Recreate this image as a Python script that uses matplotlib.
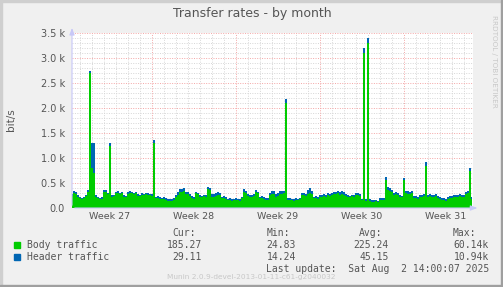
import numpy as np
import matplotlib.pyplot as plt
from matplotlib.patches import Rectangle

W, H = 503, 287

# body traffic, bit/s, one sample every 4 hours
body = [250, 300, 280, 230, 200, 180, 200, 240, 330, 2700,
        800, 700, 230, 200, 180, 190, 320, 330, 280, 1250,
        230, 240, 300, 310, 280, 300, 230, 220, 290, 310,
        300, 280, 300, 250, 240, 270, 260, 280, 270, 260,
        250, 1300, 200, 210, 190, 180, 190, 170, 150, 150,
        140, 160, 230, 260, 330, 320, 340, 290, 280, 240,
        200, 190, 300, 280, 230, 220, 240, 230, 390, 370,
        230, 220, 250, 270, 260, 200, 210, 190, 160, 170,
        150, 160, 170, 160, 150, 200, 330, 300, 240, 230,
        220, 250, 330, 300, 200, 210, 190, 160, 170, 270,
        290, 280, 230, 250, 290, 280, 300, 2100, 160, 170,
        160, 150, 170, 160, 180, 270, 260, 250, 290, 300,
        280, 200, 210, 190, 230, 220, 240, 230, 270, 250,
        260, 290, 280, 300, 270, 280, 270, 250, 230, 220,
        240, 230, 270, 260, 250, 160, 3100, 150, 3300, 150,
        130, 130, 140, 120, 170, 160, 170, 570, 360, 350,
        320, 270, 280, 260, 230, 220, 570, 300, 290, 280,
        300, 200, 210, 190, 230, 220, 240, 850, 230, 240,
        230, 220, 240, 200, 190, 160, 170, 150, 190, 200,
        210, 230, 220, 230, 240, 220, 230, 290, 300, 750, 190]

header = [40, 50, 40, 30, 30, 30, 30, 30, 30, 50,
          500, 600, 40, 30, 30, 30, 40, 30, 30, 50,
          30, 30, 30, 30, 30, 30, 30, 30, 30, 30,
          30, 30, 30, 30, 30, 30, 30, 30, 30, 30,
          30, 60, 30, 30, 30, 30, 30, 30, 40, 40,
          40, 40, 40, 60, 60, 60, 60, 40, 40, 40,
          40, 40, 30, 30, 30, 30, 30, 30, 40, 40,
          50, 60, 60, 50, 40, 30, 30, 30, 30, 30,
          30, 30, 30, 30, 30, 30, 60, 50, 40, 40,
          40, 40, 40, 30, 30, 30, 30, 40, 40, 40,
          60, 60, 50, 60, 60, 60, 50, 80, 40, 40,
          30, 30, 30, 30, 30, 40, 40, 40, 80, 100,
          60, 30, 30, 30, 40, 40, 40, 40, 40, 40,
          40, 40, 40, 40, 50, 60, 60, 40, 30, 30,
          30, 30, 40, 40, 40, 30, 100, 30, 100, 30,
          30, 30, 30, 30, 40, 40, 40, 50, 60, 60,
          50, 40, 40, 40, 30, 30, 40, 50, 50, 50,
          40, 40, 40, 40, 40, 40, 40, 80, 40, 40,
          40, 40, 40, 40, 40, 40, 40, 40, 40, 40,
          40, 40, 40, 40, 40, 40, 40, 40, 40, 60, 30]

# days since Mon 30 Jun 2025 00:00
t_start = 1 / 3
t_step = 1 / 6
t_end = t_start + 401 / 12

week_labels = ['Week 27', 'Week 28', 'Week 29', 'Week 30', 'Week 31']
week_centres = [3.5, 10.5, 17.5, 24.5, 31.5]
week_starts = [7, 14, 21, 28]

yticks = [0, 500, 1000, 1500, 2000, 2500, 3000, 3500]
ytick_labels = ['0.0', '0.5 k', '1.0 k', '1.5 k', '2.0 k', '2.5 k', '3.0 k', '3.5 k']

names = ['Body traffic', 'Header traffic']
colors = ['#00cc00', '#0066b3']
cur = ['185.27', '29.11']
mins = ['24.83', '14.24']
avg = ['225.24', '45.15']
maxs = ['60.14k', '10.94k']

body = np.array(body, dtype=float)
header = np.array(header, dtype=float)
t = t_start + np.arange(len(body)) * t_step

txt = '#555555'
fig = plt.figure(figsize=(W / 100, H / 100), dpi=100, facecolor='#f0f0f0')


def px(x, y):
    return x / W, 1 - y / H


ax = fig.add_axes([72 / W, 1 - 208 / H, 401 / W, 175 / H])
ax.set_facecolor('white')

# grid
for d in range(1, 34):
    if d not in week_starts:
        ax.axvline(d, color='#d6d6d6', lw=0.7, ls=(0, (1, 1.5)), zorder=1)
for v in range(100, 3600, 100):
    if v % 500:
        ax.axhline(v, color='#d6d6d6', lw=0.7, ls=(0, (1, 1.5)), zorder=1)
for d in week_starts:
    ax.axvline(d, color='#f4a6a6', lw=0.7, ls=(0, (1, 1.5)), zorder=1)
for v in yticks[1:]:
    ax.axhline(v, color='#f4a6a6', lw=0.7, ls=(0, (1, 1.5)), zorder=1)

ax.fill_between(t, 0, body + header, step='mid', color=colors[1], lw=0, zorder=2)
ax.fill_between(t, 0, body, step='mid', color=colors[0], lw=0, zorder=3)

ax.set_xlim(t_start, t_end)
ax.set_ylim(0, 3500)
for s in ax.spines.values():
    s.set_visible(False)
ax.set_xticks(week_centres)
ax.set_xticklabels(week_labels, fontsize=6.8, color=txt)
ax.set_yticks(yticks)
ax.set_yticklabels(ytick_labels, fontsize=7, color=txt)
ax.tick_params(length=0, pad=5)
ax.tick_params(axis='x', pad=3)

# axis lines with arrows
ax.annotate('', xy=(0, 1.045), xytext=(0, 0), xycoords='axes fraction',
            arrowprops=dict(arrowstyle='-|>,head_width=0.15,head_length=0.4',
                            color='#c8c8f8', lw=0.8))
ax.annotate('', xy=(1.018, 0), xytext=(0, 0), xycoords='axes fraction',
            arrowprops=dict(arrowstyle='-|>,head_width=0.15,head_length=0.4',
                            color='#c8c8f8', lw=0.8))

fig.text(*px(252, 13), 'Transfer rates - by month', ha='center', va='center',
         fontsize=9, color=txt)
fig.text(*px(11, 120), 'bit/s', ha='center', va='center', rotation=90,
         fontsize=7.5, color=txt)
fig.text(*px(494, 15), 'RRDTOOL / TOBI OETIKER', ha='center', va='top',
         rotation=-90, fontsize=5.2, color='#c8c8c8')

mono = dict(family='DejaVu Sans Mono', fontsize=7, color=txt, va='center')
fig.text(*px(196, 233), 'Cur:', ha='right', **mono)
fig.text(*px(290, 233), 'Min:', ha='right', **mono)
fig.text(*px(382, 233), 'Avg:', ha='right', **mono)
fig.text(*px(476, 233), 'Max:', ha='right', **mono)
for i, name in enumerate(names):
    y = 245 + 12.3 * i
    fig.add_artist(Rectangle(px(14, y + 3), 6 / W, 6 / H, color=colors[i],
                             transform=fig.transFigure))
    fig.text(*px(27, y), name, ha='left', **mono)
    fig.text(*px(202, y), cur[i], ha='right', **mono)
    fig.text(*px(296, y), mins[i], ha='right', **mono)
    fig.text(*px(389, y), avg[i], ha='right', **mono)
    fig.text(*px(489, y), maxs[i], ha='right', **mono)
fig.text(*px(489, 269.5), 'Last update:  Sat Aug  2 14:00:07 2025', ha='right', **mono)
fig.text(*px(251, 277), 'Munin 2.0.9-devel-2013-01-11-c61-g2040032', ha='center',
         va='center', fontsize=5.3, color='#c8c8c8')

# frame
fig.add_artist(Rectangle((0, 0), 2 / W, 1, color='#cfcfcf', transform=fig.transFigure))
fig.add_artist(Rectangle((0, 1 - 2 / H), 1, 2 / H, color='#cfcfcf', transform=fig.transFigure))
fig.add_artist(Rectangle((1 - 2 / W, 0), 2 / W, 1, color='#9f9f9f', transform=fig.transFigure))
fig.add_artist(Rectangle((0, 0), 1, 2 / H, color='#9f9f9f', transform=fig.transFigure))

fig.savefig('out.png', dpi=100, facecolor=fig.get_facecolor())
